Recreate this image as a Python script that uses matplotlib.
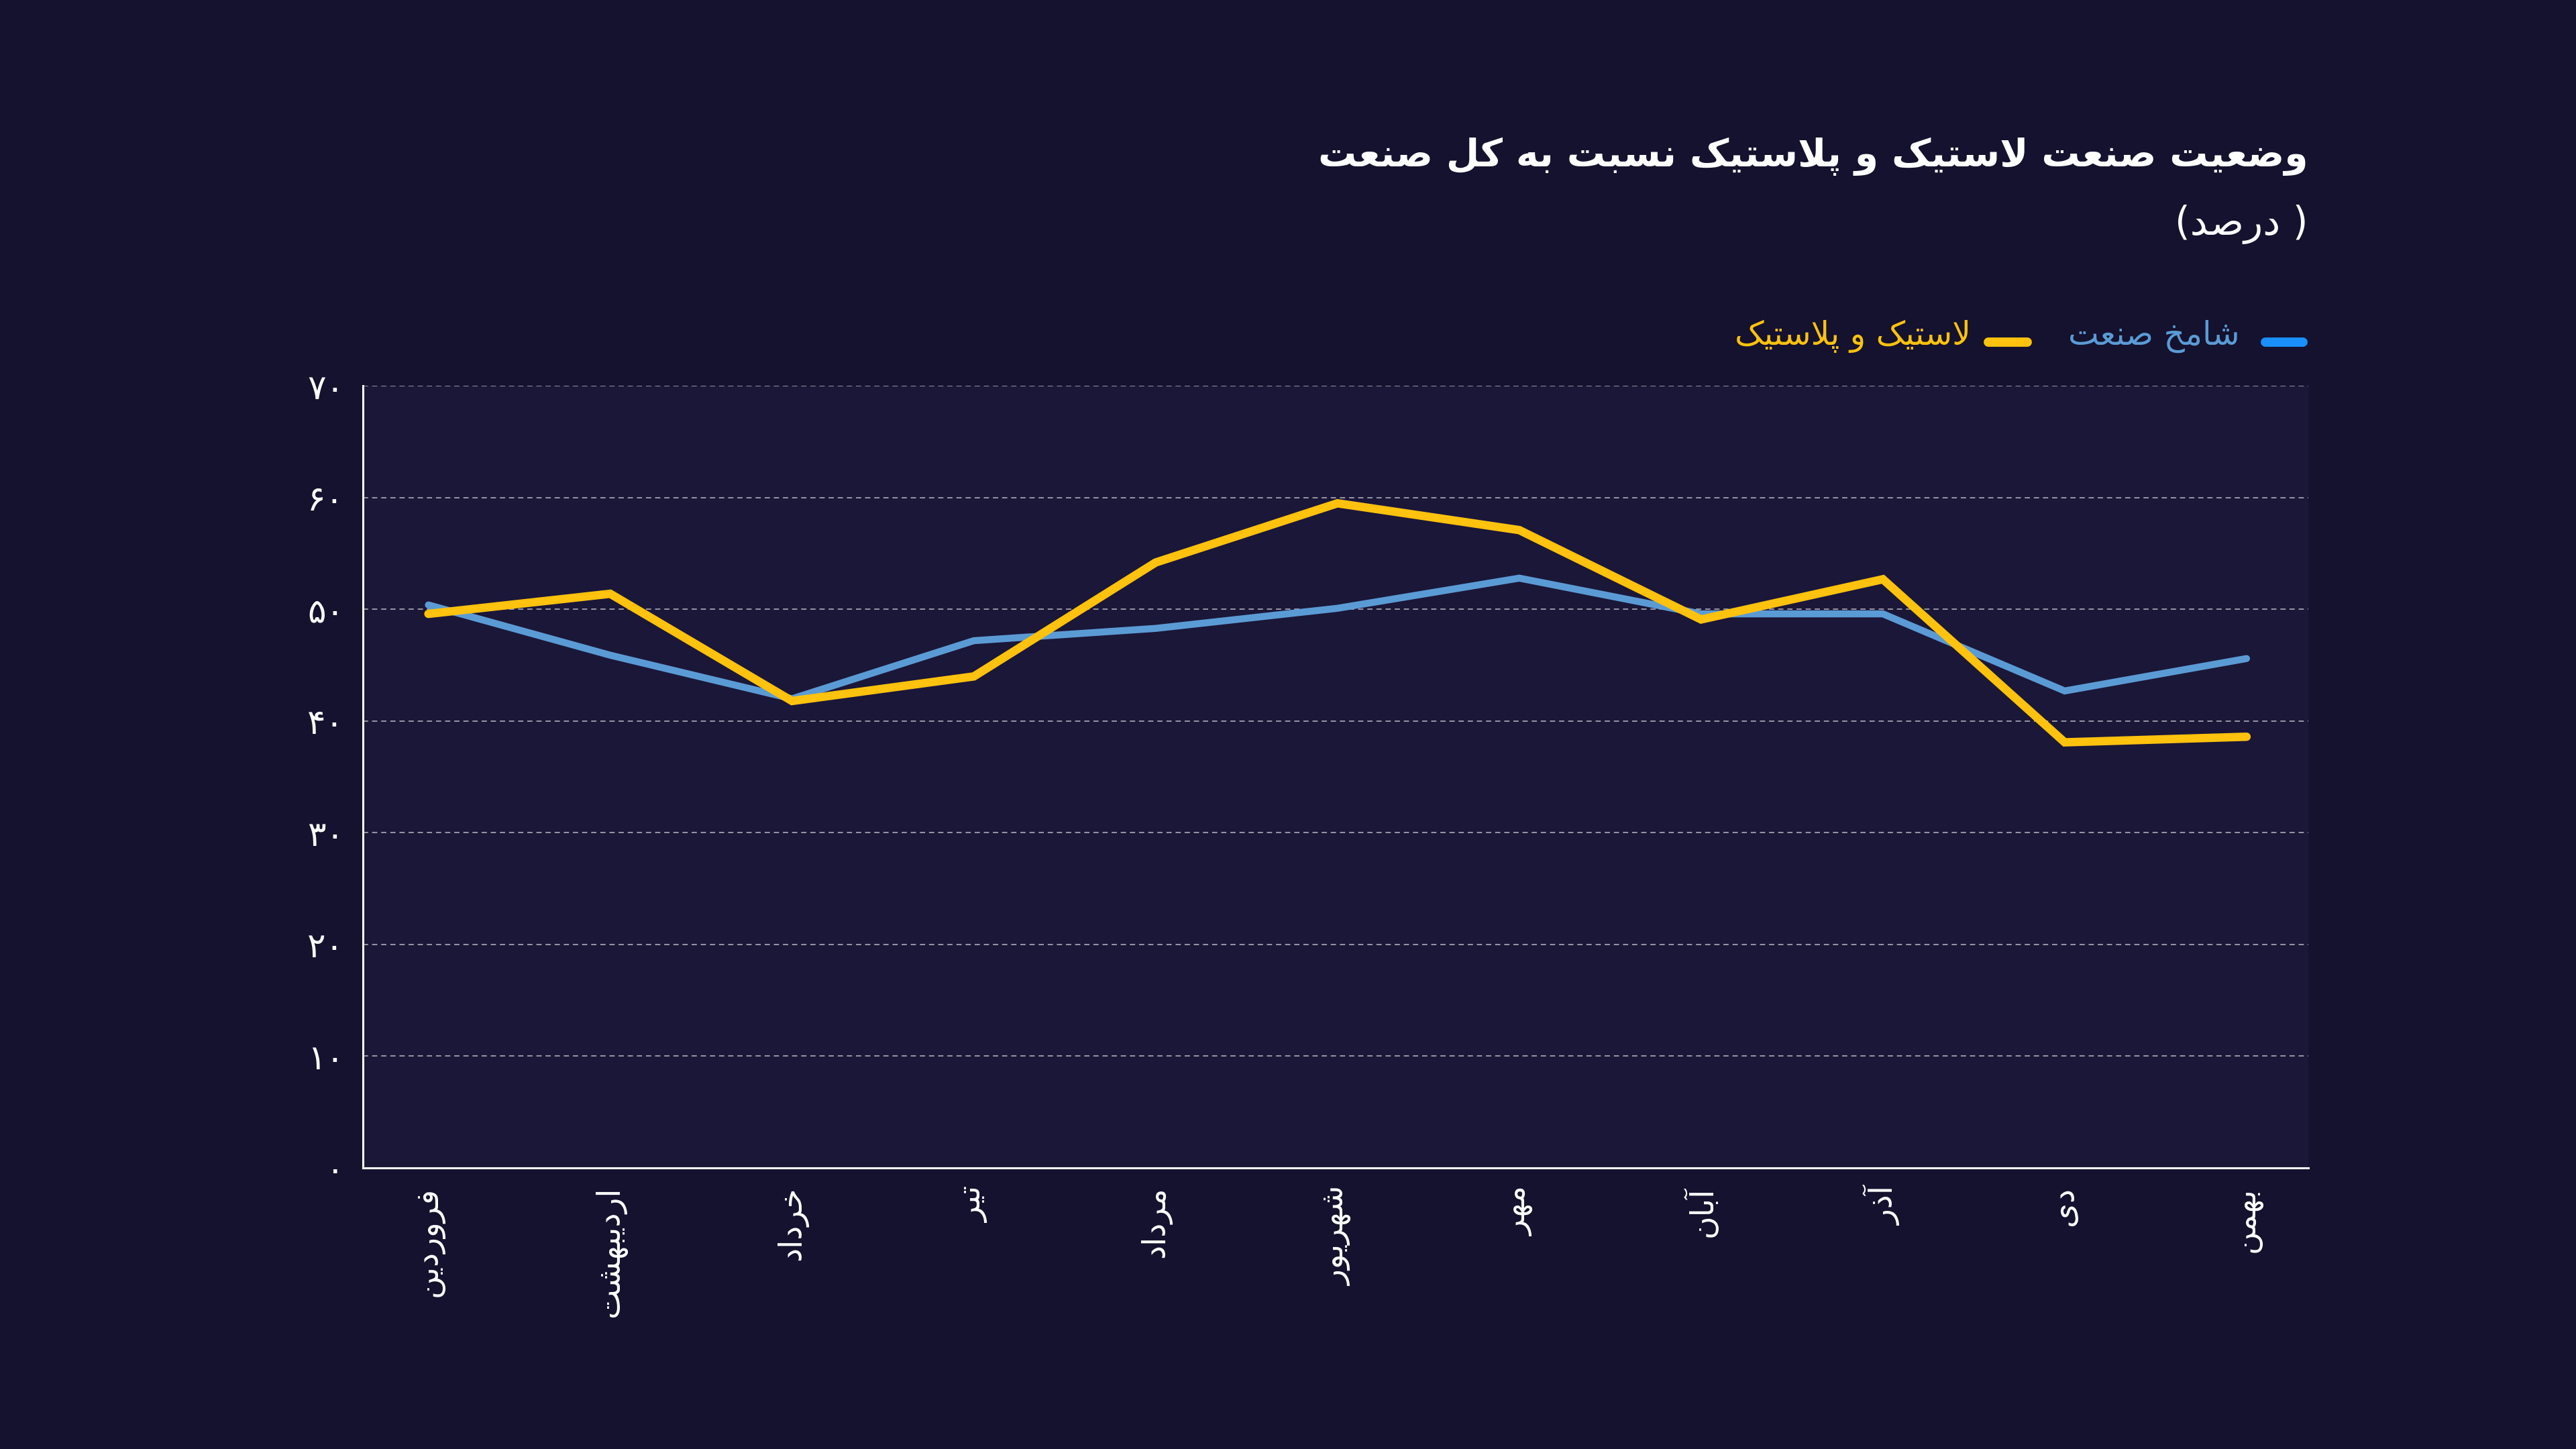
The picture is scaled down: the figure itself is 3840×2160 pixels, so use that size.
import matplotlib
matplotlib.use("Agg")
import matplotlib.pyplot as plt
from matplotlib.lines import Line2D

# ---------------- data ----------------
months = ["فروردین", "اردیبهشت", "خرداد", "تیر", "مرداد", "شهریور",
          "مهر", "آبان", "آذر", "دی", "بهمن"]
shamekh = [50.4, 45.9, 42.0, 47.2, 48.3, 50.1, 52.8, 49.6, 49.6, 42.7, 45.6]
plastic = [49.6, 51.4, 41.8, 44.0, 54.2, 59.5, 57.1, 49.1, 52.7, 38.1, 38.6]
yticks = [0, 10, 20, 30, 40, 50, 60, 70]
title_txt = "وضعیت صنعت لاستیک و پلاستیک نسبت به کل صنعت"
subtitle_txt = "درصد"
legend_names = ["شامخ صنعت", "لاستیک و پلاستیک"]

# ---------------- simple Persian shaper ----------------
FORMS = {
    '\u0627': ('\uFE8D', '\uFE8E', None, None),
    '\u0622': ('\uFE81', '\uFE82', None, None),
    '\u0628': ('\uFE8F', '\uFE90', '\uFE91', '\uFE92'),
    '\u067E': ('\uFB56', '\uFB57', '\uFB58', '\uFB59'),
    '\u062A': ('\uFE95', '\uFE96', '\uFE97', '\uFE98'),
    '\u062B': ('\uFE99', '\uFE9A', '\uFE9B', '\uFE9C'),
    '\u062C': ('\uFE9D', '\uFE9E', '\uFE9F', '\uFEA0'),
    '\u0686': ('\uFB7A', '\uFB7B', '\uFB7C', '\uFB7D'),
    '\u062D': ('\uFEA1', '\uFEA2', '\uFEA3', '\uFEA4'),
    '\u062E': ('\uFEA5', '\uFEA6', '\uFEA7', '\uFEA8'),
    '\u062F': ('\uFEA9', '\uFEAA', None, None),
    '\u0630': ('\uFEAB', '\uFEAC', None, None),
    '\u0631': ('\uFEAD', '\uFEAE', None, None),
    '\u0632': ('\uFEAF', '\uFEB0', None, None),
    '\u0698': ('\uFB8A', '\uFB8B', None, None),
    '\u0633': ('\uFEB1', '\uFEB2', '\uFEB3', '\uFEB4'),
    '\u0634': ('\uFEB5', '\uFEB6', '\uFEB7', '\uFEB8'),
    '\u0635': ('\uFEB9', '\uFEBA', '\uFEBB', '\uFEBC'),
    '\u0636': ('\uFEBD', '\uFEBE', '\uFEBF', '\uFEC0'),
    '\u0637': ('\uFEC1', '\uFEC2', '\uFEC3', '\uFEC4'),
    '\u0638': ('\uFEC5', '\uFEC6', '\uFEC7', '\uFEC8'),
    '\u0639': ('\uFEC9', '\uFECA', '\uFECB', '\uFECC'),
    '\u063A': ('\uFECD', '\uFECE', '\uFECF', '\uFED0'),
    '\u0641': ('\uFED1', '\uFED2', '\uFED3', '\uFED4'),
    '\u0642': ('\uFED5', '\uFED6', '\uFED7', '\uFED8'),
    '\u06A9': ('\uFB8E', '\uFB8F', '\uFB90', '\uFB91'),
    '\u06AF': ('\uFB92', '\uFB93', '\uFB94', '\uFB95'),
    '\u0644': ('\uFEDD', '\uFEDE', '\uFEDF', '\uFEE0'),
    '\u0645': ('\uFEE1', '\uFEE2', '\uFEE3', '\uFEE4'),
    '\u0646': ('\uFEE5', '\uFEE6', '\uFEE7', '\uFEE8'),
    '\u0647': ('\uFEE9', '\uFEEA', '\uFEEB', '\uFEEC'),
    '\u0648': ('\uFEED', '\uFEEE', None, None),
    '\u06CC': ('\uFBFC', '\uFBFD', '\uFBFE', '\uFBFF'),
    '\u064A': ('\uFEF1', '\uFEF2', '\uFEF3', '\uFEF4'),
}
LAM_ALEF = {'\u0627': ('\uFEFB', '\uFEFC'), '\u0622': ('\uFEF5', '\uFEF6')}


def joins_left(ch):
    f = FORMS.get(ch)
    return f is not None and f[2] is not None


def shape(text):
    chars = list(text)
    out = []
    i = 0
    n = len(chars)
    while i < n:
        c = chars[i]
        if c not in FORMS:
            out.append(c)
            i += 1
            continue
        prev = chars[i - 1] if i > 0 else None
        prev_joins = prev is not None and joins_left(prev)
        if c == '\u0644' and i + 1 < n and chars[i + 1] in LAM_ALEF:
            iso, fin = LAM_ALEF[chars[i + 1]]
            out.append(fin if prev_joins else iso)
            i += 2
            continue
        nxt = chars[i + 1] if i + 1 < n else None
        next_joins = nxt is not None and nxt in FORMS and joins_left(c)
        iso, fin, ini, med = FORMS[c]
        if prev_joins and next_joins:
            g = med
        elif prev_joins:
            g = fin
        elif next_joins:
            g = ini
        else:
            g = iso
        out.append(g)
        i += 1
    return ''.join(reversed(out))


def fa_digits(v):
    return str(v).translate(str.maketrans('0123456789', '۰۱۲۳۴۵۶۷۸۹'))


# ---------------- style ----------------
BG = '#14122e'
AX_BG = '#1b1738'
YELLOW = '#ffc20e'
BLUE = '#5b9bd5'
BLUE_SW = '#1a8fff'
FONT = ['DejaVu Sans']
plt.rcParams['font.family'] = FONT

fig = plt.figure(figsize=(38.4, 21.6), dpi=100, facecolor=BG)
ax = fig.add_axes([0.1409, 0.194, 0.7552, 0.5396], facecolor=AX_BG)

x = list(range(len(months)))
ax.plot(x, shamekh, color=BLUE, lw=7.5, solid_capstyle='round', solid_joinstyle='miter', zorder=3)
ax.plot(x, plastic, color=YELLOW, lw=9, solid_capstyle='round', solid_joinstyle='miter', zorder=4)

ax.set_xlim(-0.36, len(months) - 1 + 0.34)
ax.set_ylim(0, 70)
ax.set_yticks(yticks)
ax.set_yticklabels([fa_digits(v) for v in yticks], color='white', fontsize=37)
ax.set_xticks(x)
ax.set_xticklabels([shape(m) for m in months], rotation=90, color='white', fontsize=34,
                   va='top', ha='center')
ax.tick_params(axis='both', length=0)
ax.tick_params(axis='y', pad=20)
ax.tick_params(axis='x', pad=20)

for yv in yticks[1:]:
    ax.axhline(yv, color='white', alpha=0.55, lw=1.4, ls=(0, (4, 3)), zorder=1)

for s in ['top', 'right']:
    ax.spines[s].set_visible(False)
ax.spines['left'].set_color('white')
ax.spines['left'].set_linewidth(2.2)
ax.spines['bottom'].set_color('white')
ax.spines['bottom'].set_linewidth(2.2)

# title and subtitle
fig.text(0.896, 0.892, shape(title_txt), color='white', fontsize=41, fontweight='bold',
         ha='right', va='center')
fig.text(0.896, 0.845, '(' + shape(subtitle_txt) + ' )', color='white', fontsize=42,
         ha='right', va='center')

# legend
ly = 0.764
fig.add_artist(Line2D([0.8795, 0.894], [ly, ly], color=BLUE_SW, lw=10, solid_capstyle='round',
                      transform=fig.transFigure))
fig.text(0.8695, ly + 0.004, shape(legend_names[0]), color=BLUE, fontsize=35, ha='right', va='center')
fig.add_artist(Line2D([0.772, 0.787], [ly, ly], color=YELLOW, lw=10, solid_capstyle='round',
                      transform=fig.transFigure))
fig.text(0.765, ly + 0.004, shape(legend_names[1]), color=YELLOW, fontsize=35, ha='right', va='center')

fig.savefig('out.png', dpi=100, facecolor=BG)
